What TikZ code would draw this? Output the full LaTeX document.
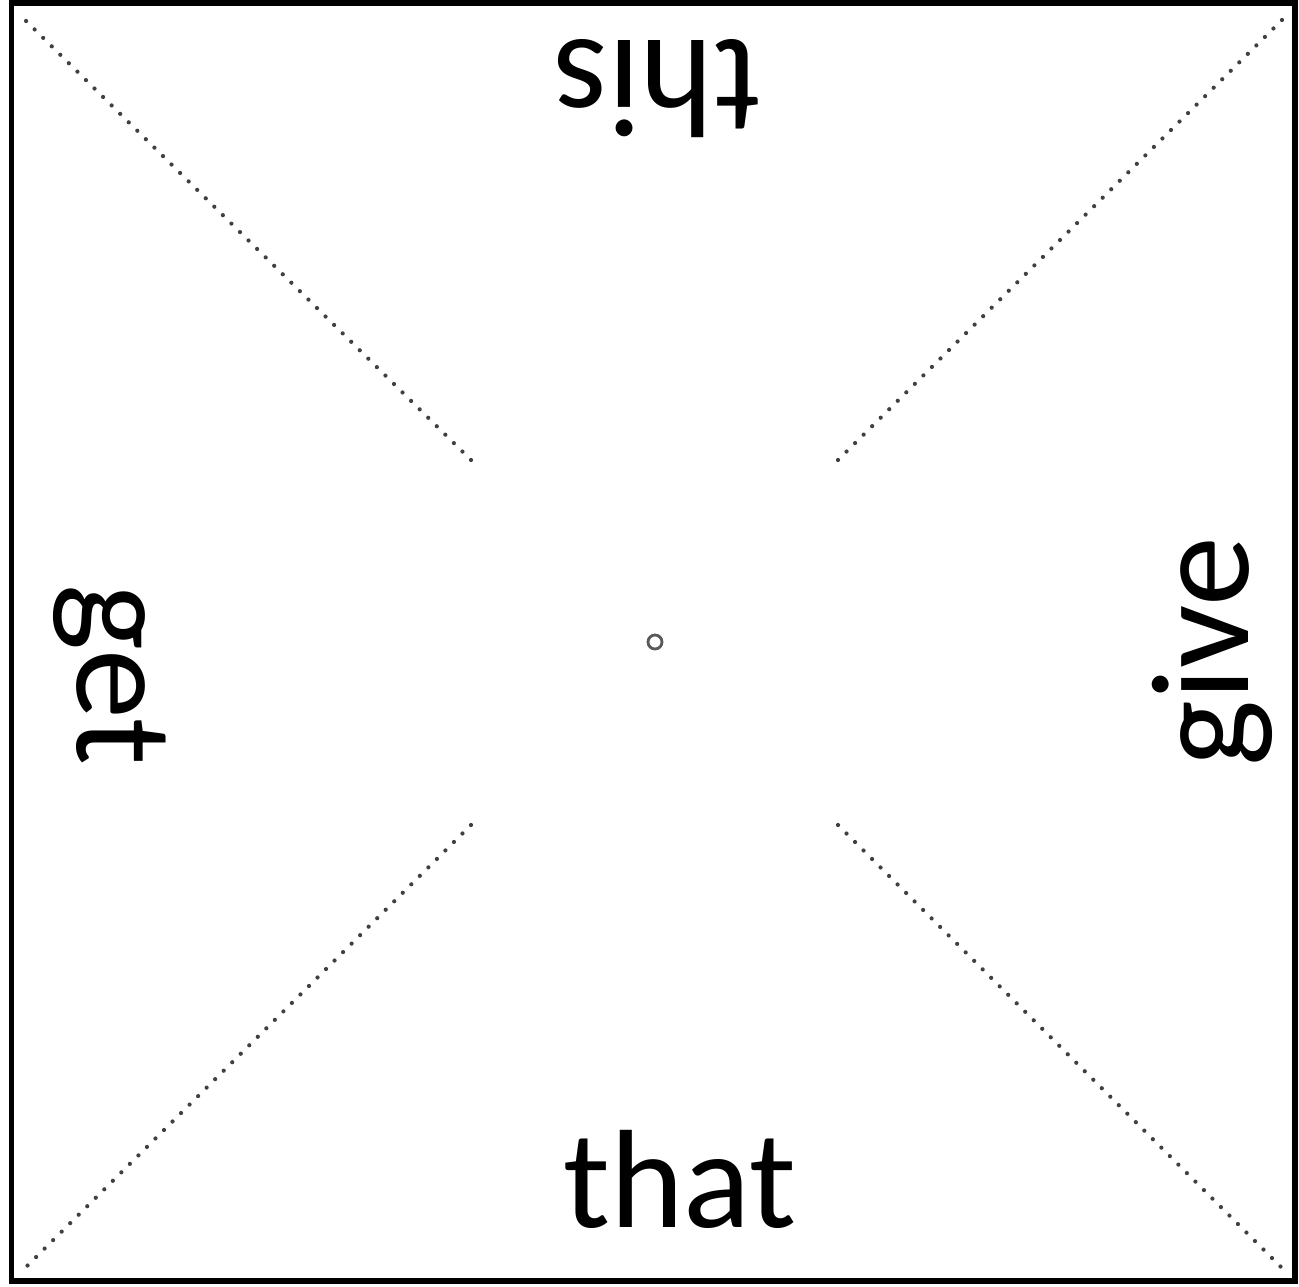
\documentclass[tikz,border=0pt]{standalone}
\usepackage{fontspec}
\setmainfont{Carlito}
\begin{document}
\begin{tikzpicture}[x=0.5pt,y=-0.5pt,
  label/.style={inner sep=0pt,anchor=base,font=\fontsize{70}{84}\selectfont},
  diag/.style={draw=black!75,line width=2.1pt,line cap=round,dash pattern=on 0.01pt off 6pt},
  frame/.style={draw=black,line width=2.6pt}]
\useasboundingbox (0,0) rectangle (1299,1286);
\fill[white] (0,0) rectangle (1299,1286);
\draw[frame] (11.5,3) rectangle (1295,1281);
% corners and inner ends
\coordinate (tl) at (20,15);
\coordinate (tr) at (1287,15);
\coordinate (bl) at (20,1273);
\coordinate (br) at (1287,1273);
\coordinate (itl) at (471,460);
\coordinate (itr) at (838,460);
\coordinate (ibl) at (471,825);
\coordinate (ibr) at (838,825);
\draw[diag] (itl) -- (tl);
\draw[diag] (itr) -- (tr);
\draw[diag] (ibl) -- (bl);
\draw[diag] (ibr) -- (br);
\node[circle,draw=black!65,line width=1.4pt,minimum size=7pt,inner sep=0pt] (pin) at (655,642) {};
\node[label,rotate=180] (this) at (657,40) {this};
\node[label] (that) at (680,1227) {that};
\node[label,rotate=90] (give) at (1248,652) {give};
\node[label,rotate=-90] (get) at (77,675) {get};
\end{tikzpicture}
\end{document}
